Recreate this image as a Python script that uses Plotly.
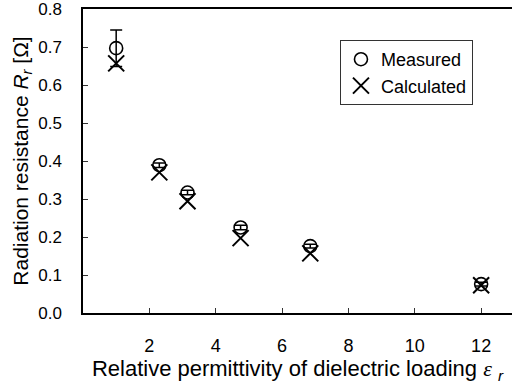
import plotly.graph_objects as go

eps_r = [1.0, 2.3, 3.15, 4.75, 6.85, 12.0]
measured = [0.697, 0.389, 0.317, 0.225, 0.176, 0.076]
measured_err = [0.048, 0.006, 0.006, 0.006, 0.005, 0.005]
calculated = [0.657, 0.370, 0.294, 0.197, 0.157, 0.073]
x_ticks = [2, 4, 6, 8, 10, 12]
y_ticks = [0.0, 0.1, 0.2, 0.3, 0.4, 0.5, 0.6, 0.7, 0.8]

FONT = "Arial, Liberation Sans, sans-serif"

fig = go.Figure()
fig.add_trace(go.Scatter(
    x=eps_r, y=measured, mode="markers", name="Measured",
    marker=dict(symbol="circle-open", size=13, color="black", line=dict(width=1.6, color="black")),
    error_y=dict(type="data", array=measured_err, visible=True, color="black", thickness=1.5, width=6),
))
fig.add_trace(go.Scatter(
    x=eps_r, y=calculated, mode="markers", name="Calculated",
    marker=dict(symbol="x-thin-open", size=16, color="black", line=dict(width=2, color="black")),
))

fig.update_layout(
    width=512, height=388,
    margin=dict(l=83, r=0, t=9, b=75),
    paper_bgcolor="white", plot_bgcolor="white",
    font=dict(family=FONT, size=16, color="black"),
    showlegend=True,
    legend=dict(
        x=0.599, y=0.898, xanchor="left", yanchor="top",
        bordercolor="#333333", borderwidth=1, bgcolor="white",
        font=dict(size=18, family=FONT), itemwidth=30, tracegroupgap=0,
    ),
    xaxis=dict(
        range=[0, 12.93], tickvals=x_ticks, ticktext=[str(v) for v in x_ticks],
        ticks="inside", ticklen=5, tickwidth=1, tickcolor="#333333",
        showline=True, linecolor="black", linewidth=1.5, mirror=True,
        showgrid=False, zeroline=False, ticklabelstandoff=16,
        title=dict(text="Relative permittivity of dielectric loading <span style=\"font-family:Liberation Serif\"><i>ε</i></span> <sub><i>r</i></sub>",
                   font=dict(size=22), standoff=3),
        tickfont=dict(size=18),
    ),
    yaxis=dict(
        range=[0, 0.8], tickvals=y_ticks, ticktext=[f"{v:.1f}" for v in y_ticks],
        ticks="inside", ticklen=5, tickwidth=1, tickcolor="#333333",
        showline=True, linecolor="black", linewidth=1.5, mirror=False,
        showgrid=False, zeroline=False, ticklabelstandoff=16, ticklabeloverflow="allow",
        title=dict(text="Radiation resistance <i>R</i><sub><i>r</i></sub> [Ω]", font=dict(size=21), standoff=4),
        tickfont=dict(size=17),
    ),
)

fig.write_html("out.html", post_script="document.body.style.margin='0';",
               config={"displayModeBar": False})
